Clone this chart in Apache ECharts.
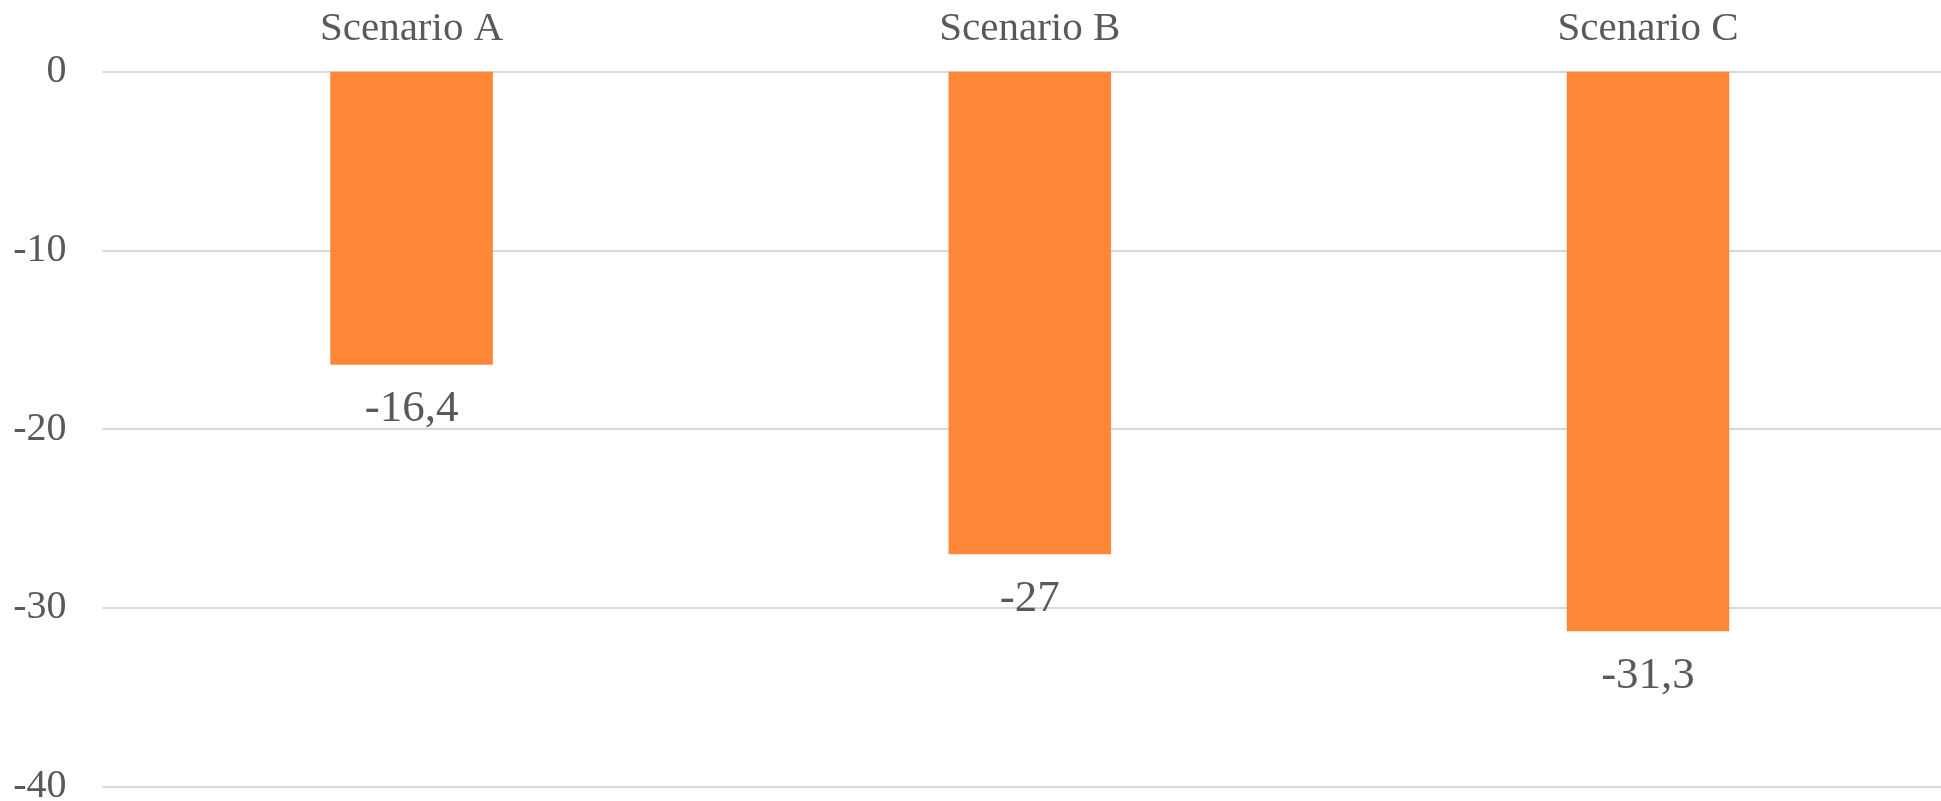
<!DOCTYPE html>
<html>
<head>
<meta charset="utf-8">
<script src="https://cdn.jsdelivr.net/npm/echarts@6/dist/echarts.min.js"></script>
<style>
html,body{margin:0;padding:0;background:#fff;}
#chart{width:1941px;height:801px;}
</style>
</head>
<body>
<div id="chart"></div>
<script>
const categories = ['Scenario A', 'Scenario B', 'Scenario C'];
const values = [-16.4, -27, -31.3];
const yMin = -40, yMax = 0, yInterval = 10;

const FONT = '"Liberation Serif", "DejaVu Serif", serif';
const TEXT = '#595959';

const chart = echarts.init(document.getElementById('chart'), null, {renderer: 'canvas'});
chart.setOption({
  animation: false,
  backgroundColor: '#ffffff',
  grid: {left: 102.5, top: 71.7, width: 1854.6, height: 715, containLabel: false, outerBoundsMode: 'none'},
  xAxis: {
    type: 'category',
    position: 'top',
    data: categories,
    axisLine: {show: false},
    axisTick: {show: false},
    axisLabel: {color: TEXT, fontFamily: FONT, fontSize: 41, margin: 22}
  },
  yAxis: {
    type: 'value',
    min: yMin, max: yMax, interval: yInterval,
    axisLine: {show: false},
    axisTick: {show: false},
    axisLabel: {color: TEXT, fontFamily: FONT, fontSize: 40, margin: 36},
    splitLine: {lineStyle: {color: '#D9D9D9', width: 2}}
  },
  series: [{
    type: 'bar',
    data: values,
    barWidth: '26.3%',
    itemStyle: {color: '#FF8838'},
    label: {
      show: true,
      position: 'bottom',
      distance: 22,
      color: TEXT,
      fontFamily: FONT,
      fontSize: 45,
      formatter: p => String(p.value).replace('.', ',')
    }
  }]
});
</script>
</body>
</html>
